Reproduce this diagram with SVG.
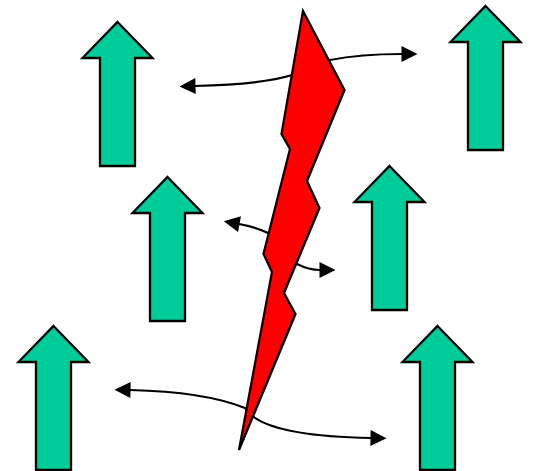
<svg xmlns="http://www.w3.org/2000/svg" width="534" height="471" viewBox="0 0 534 471">
<style>
.up{fill:#00cc99;stroke:#000;stroke-width:2.3;stroke-linejoin:miter}
.link{fill:none;stroke:#000;stroke-width:2.2;marker-start:url(#head);marker-end:url(#head)}
</style>
<defs>
<marker id="head" markerUnits="userSpaceOnUse" markerWidth="17" markerHeight="17" refX="0.5" refY="8.5" orient="auto-start-reverse" overflow="visible"><path d="M0,0.5 L16,8.5 L0,16.5 Z" fill="#000"/></marker>
<path id="arrow" d="M0,0 L35,36 L17.5,36 L17.5,144 L-17.5,144 L-17.5,36 L-35,36 Z"/>
</defs>
<rect width="534" height="471" fill="#fff"/>
<g id="connectors">
<path class="link" d="M195,86 C235,85 270,82 292,75 C305,68 318,62 330,60 C350,56 375,54 402,54"/>
<path class="link" d="M239,224 C250,226 260,229 268,233 C280,245 288,261 297,264 C303,267 312,270 320,270"/>
<path class="link" d="M130,390 C175,391 215,396 245,408 C258,430 315,437 371,438"/>
</g>
<g id="arrow-1"><use href="#arrow" class="up" x="117.5" y="22"/></g>
<g id="arrow-2"><use href="#arrow" class="up" x="485.5" y="6"/></g>
<g id="arrow-3"><use href="#arrow" class="up" x="167.5" y="177"/></g>
<g id="arrow-4"><use href="#arrow" class="up" x="389.5" y="166"/></g>
<g id="arrow-5"><use href="#arrow" class="up" x="53.5" y="326"/></g>
<g id="arrow-6"><use href="#arrow" class="up" x="437.5" y="326"/></g>
<g id="lightning"><path d="M303,11 L344.5,90 L307,181 L319.5,208 L284,293 L295.5,314 L239,450 L272,272 L263.5,254 L290,149 L281.5,134 Z" fill="#f00" stroke="#000" stroke-width="2.3"/></g>
</svg>
